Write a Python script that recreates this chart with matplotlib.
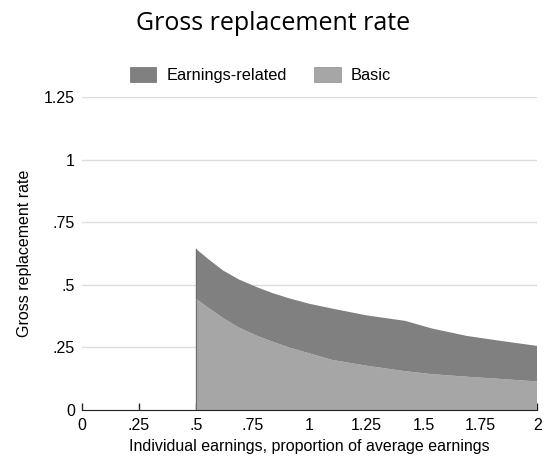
import numpy as np
import matplotlib.pyplot as plt
from matplotlib.patches import Patch

# earnings as multiple of average earnings
earnings = [0.5, 0.56, 0.62, 0.69, 0.77, 0.84, 0.91, 1.0, 1.1, 1.25, 1.42, 1.54, 1.69, 1.84, 2.0]
basic = [0.445, 0.405, 0.367, 0.329, 0.296, 0.272, 0.250, 0.226, 0.200, 0.177, 0.155, 0.143, 0.133, 0.124, 0.114]
total = [0.644, 0.599, 0.557, 0.521, 0.490, 0.466, 0.446, 0.424, 0.405, 0.378, 0.356, 0.325, 0.296, 0.276, 0.256]

xticks = [0, 0.25, 0.5, 0.75, 1, 1.25, 1.5, 1.75, 2]
xticklabels = ["0", ".25", ".5", ".75", "1", "1.25", "1.5", "1.75", "2"]
yticks = [0, 0.25, 0.5, 0.75, 1, 1.25]
yticklabels = ["0", ".25", ".5", ".75", "1", "1.25"]


def main():
    plt.rcParams['font.family'] = ['Liberation Sans', 'DejaVu Sans']
    fig = plt.figure(figsize=(5.47, 4.58), dpi=100)
    ax = fig.add_axes([0.150, 0.1048, 0.832, 0.6834])

    x = np.array(earnings)
    b = np.array(basic)
    t = np.array(total)
    earn_rel = t - b

    dark = "#808080"
    light = "#a6a6a6"
    ax.stackplot(x, b, earn_rel, colors=[light, dark], linewidth=0, zorder=2)
    ax.plot([x[0], x[0]], [0, t[0]], color="#6e6e6e", linewidth=0.8, zorder=3)

    ax.set_xlim(0, 2)
    ax.set_ylim(0, 1.25)
    ax.set_xticks(xticks)
    ax.set_xticklabels(xticklabels, fontsize=11.5)
    ax.set_yticks(yticks)
    ax.set_yticklabels(yticklabels, fontsize=11.5)
    ax.tick_params(axis='x', direction='in', length=5, width=1, color="#222222", pad=6)
    ax.tick_params(axis='y', length=0, pad=5)
    ax.yaxis.grid(True, color="#dcdcdc", linewidth=1)
    ax.set_axisbelow(True)
    for s in ['top', 'right', 'left']:
        ax.spines[s].set_visible(False)
    ax.spines['bottom'].set_color("#222222")
    ax.spines['bottom'].set_zorder(4)

    ax.set_xlabel("Individual earnings, proportion of average earnings", fontsize=11.5, labelpad=4)
    ax.set_ylabel("Gross replacement rate", fontsize=11.5, labelpad=9)

    fig.text(0.5, 0.948, "Gross replacement rate", ha='center', va='center',
             fontsize=18, family=['Open Sans', 'DejaVu Sans'])

    handles = [Patch(facecolor=dark, edgecolor="#6e6e6e", linewidth=0.5, label="Earnings-related"),
               Patch(facecolor=light, edgecolor="#8c8c8c", linewidth=0.5, label="Basic")]
    fig.legend(handles=handles, loc='center', bbox_to_anchor=(0.476, 0.836), ncol=2,
               frameon=False, fontsize=11.8, handlelength=1.6, handleheight=1.0,
               columnspacing=1.7, handletextpad=0.6)

    fig.savefig("out.png", dpi=100)


if __name__ == "__main__":
    main()
